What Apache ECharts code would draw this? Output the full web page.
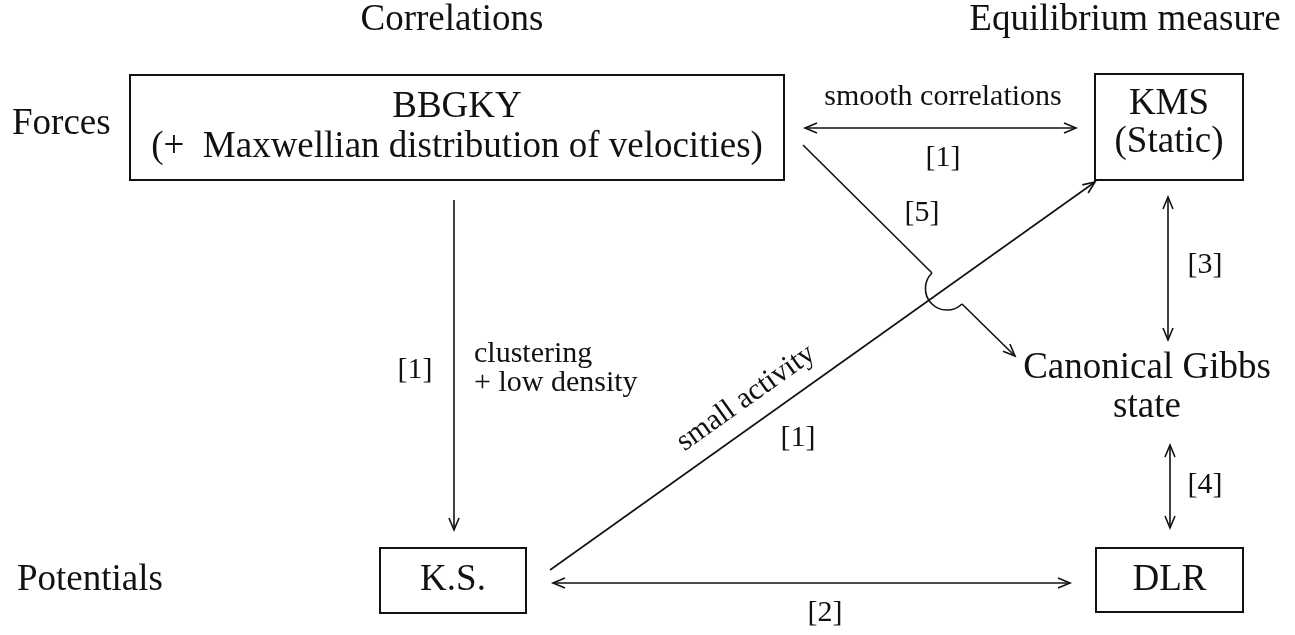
<!DOCTYPE html>
<html>
<head>
<meta charset="utf-8">
<title>Correlations / Equilibrium measure diagram</title>
<script src="https://cdn.jsdelivr.net/npm/echarts@6.0.0/dist/echarts.min.js"></script>
<style>
html,body{margin:0;padding:0;background:#ffffff;}
#chart{width:1295px;height:635px;}
</style>
</head>
<body>
<div id="chart"></div>
<script>
// ---------- data (diagram units: x 0..1295 left to right, y 0..635 top to bottom) ----------
const boxCorners = [[130,75,784,180],[1095,74,1243,180],[380,548,526,613],[1096,548,1243,612]];
const boxText = [['BBGKY','(+  Maxwellian distribution of velocities)'],['KMS','(Static)'],['K.S.'],['DLR']];
const boxTextBaselines = [[120,160],[117,155],[593],[593]];

const arrowEnds = [[805,128,1076,128],[454,200,454,530],[550,570,1095,182],[1168,197,1168,340],[1170,445,1170,528],[553,583,1070,583]];
const arrowHeads = [[1,1],[0,1],[0,1],[1,1],[1,1],[1,1]]; // [head at start, head at end]

// arrow [5]: start, hop begin, hop end, tip
const hopPath = [803,145,932,273,962,304,1015,356];

const headings = ['Correlations','Equilibrium measure','Forces','Potentials','Canonical Gibbs','state'];
const headingPos = [[452,33],[1125,33],[12,137],[17,593],[1147,381],[1147,420]];

const notes = ['smooth correlations','[1]','[5]','[1]','clustering','+ low density','[1]','[3]','[4]','[2]'];
const notePos = [[943,107],[943,168],[922,223],[415,380],[474,364],[474,393],[798,448],[1205,275],[1205,495],[825,623]];

const slantedNote = 'small activity';
const slantedNotePos = [746,398];

// ---------- style ----------
const INK = '#111111';
const FONT = '"Liberation Serif", "Times New Roman", "DejaVu Serif", serif';
const BIG = 37, SMALL = 30;
const MID = 0.3375;            // canvas "middle" sits this many em above the alphabetic baseline
const LINE_W = 1.6, BOX_W = 2;
const HEAD_L = 12, HEAD_W = 5;
const headingAlign = ['center','center','left','left','center','center'];
const noteAlign = ['center','center','center','center','left','left','center','center','center','center'];

function textEl(p, text, size, align) {
  return {type:'text', x:p[0], y:p[1] - MID*size,
    style:{text:text, font:size + 'px ' + FONT, fill:INK, align:align, verticalAlign:'middle'}};
}
function headEl(tip, from) {
  const dx = tip[0]-from[0], dy = tip[1]-from[1];
  const len = Math.hypot(dx, dy), ux = dx/len, uy = dy/len;
  return {type:'polyline', shape:{points:[
      [tip[0]-ux*HEAD_L - uy*HEAD_W, tip[1]-uy*HEAD_L + ux*HEAD_W],
      [tip[0], tip[1]],
      [tip[0]-ux*HEAD_L + uy*HEAD_W, tip[1]-uy*HEAD_L - ux*HEAD_W]]},
    style:{fill:'none', stroke:INK, lineWidth:LINE_W}};
}
function lineEl(a, b) {
  return {type:'line', shape:{x1:a[0], y1:a[1], x2:b[0], y2:b[1]}, style:{stroke:INK, lineWidth:LINE_W}};
}

const chart = echarts.init(document.getElementById('chart'), null, {renderer:'canvas'});
chart.setOption({
  backgroundColor:'#ffffff',
  animation:false,
  grid:{left:0, right:0, top:0, bottom:0},
  xAxis:{type:'value', min:0, max:1295, show:false},
  yAxis:{type:'value', min:0, max:635, inverse:true, show:false},
  series:[
    { // boxes with their text
      type:'custom', coordinateSystem:'cartesian2d', silent:true,
      data: boxCorners,
      renderItem:function(params, api){
        const i = params.dataIndex;
        const x0 = api.value(0), y0 = api.value(1), x1 = api.value(2), y1 = api.value(3);
        const p0 = api.coord([x0, y0]), p1 = api.coord([x1, y1]);
        const children = [{type:'rect', shape:{x:p0[0], y:p0[1], width:p1[0]-p0[0], height:p1[1]-p0[1]},
          style:{fill:'none', stroke:INK, lineWidth:BOX_W}}];
        boxText[i].forEach(function(t, k){
          children.push(textEl(api.coord([(x0+x1)/2, boxTextBaselines[i][k]]), t, BIG, 'center'));
        });
        return {type:'group', children:children};
      }
    },
    { // straight arrows
      type:'custom', coordinateSystem:'cartesian2d', silent:true,
      data: arrowEnds.map(function(e, i){ return e.concat(arrowHeads[i]); }),
      renderItem:function(params, api){
        const a = api.coord([api.value(0), api.value(1)]);
        const b = api.coord([api.value(2), api.value(3)]);
        const children = [lineEl(a, b)];
        if (api.value(4)) children.push(headEl(a, b));
        if (api.value(5)) children.push(headEl(b, a));
        return {type:'group', children:children};
      }
    },
    { // arrow [5] hopping over the "small activity" line
      type:'custom', coordinateSystem:'cartesian2d', silent:true,
      data: [hopPath],
      renderItem:function(params, api){
        const p = [0,1,2,3].map(function(k){ return api.coord([api.value(2*k), api.value(2*k+1)]); });
        const cx = (p[1][0]+p[2][0])/2, cy = (p[1][1]+p[2][1])/2;
        const r = Math.hypot(p[2][0]-p[1][0], p[2][1]-p[1][1])/2;
        let aStart = Math.atan2(p[2][1]-cy, p[2][0]-cx);
        let aEnd = Math.atan2(p[1][1]-cy, p[1][0]-cx);
        if (aEnd < aStart) aEnd += Math.PI*2;
        return {type:'group', children:[
          lineEl(p[0], p[1]),
          {type:'arc', shape:{cx:cx, cy:cy, r:r, startAngle:aStart, endAngle:aEnd, clockwise:true},
            style:{fill:'none', stroke:INK, lineWidth:LINE_W}},
          lineEl(p[2], p[3]),
          headEl(p[3], p[2])
        ]};
      }
    },
    { // headings
      type:'custom', coordinateSystem:'cartesian2d', silent:true,
      data: headingPos,
      renderItem:function(params, api){
        const i = params.dataIndex;
        return textEl(api.coord([api.value(0), api.value(1)]), headings[i], BIG, headingAlign[i]);
      }
    },
    { // small notes
      type:'custom', coordinateSystem:'cartesian2d', silent:true,
      data: notePos,
      renderItem:function(params, api){
        const i = params.dataIndex;
        return textEl(api.coord([api.value(0), api.value(1)]), notes[i], SMALL, noteAlign[i]);
      }
    },
    { // slanted note along the "small activity" arrow
      type:'custom', coordinateSystem:'cartesian2d', silent:true,
      data: [slantedNotePos],
      renderItem:function(params, api){
        const c = api.coord([api.value(0), api.value(1)]);
        const e = arrowEnds[2];
        const a = api.coord([e[0], e[1]]), b = api.coord([e[2], e[3]]);
        const ang = Math.atan2(a[1]-b[1], b[0]-a[0]);
        return {type:'text', x:c[0], y:c[1], rotation:ang,
          style:{text:slantedNote, font:SMALL + 'px ' + FONT, fill:INK, align:'center', verticalAlign:'middle'}};
      }
    }
  ]
});
</script>
</body>
</html>
